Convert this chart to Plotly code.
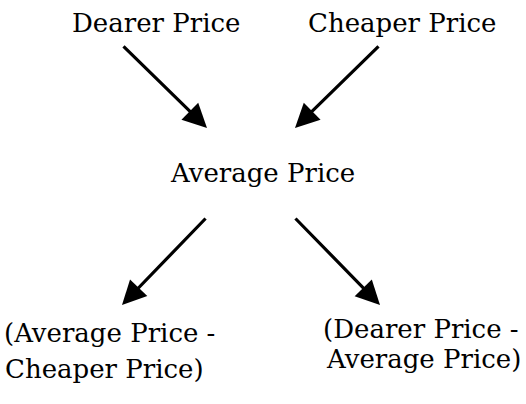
import plotly.graph_objects as go

# Node labels (one entry per text line) and their positions (526 x 404 coordinate space)
labels = ["Dearer Price", "Cheaper Price", "Average Price",
          "(Average Price -", "Cheaper Price)",
          "(Dearer Price -", "Average Price)"]
label_x = [156, 402, 262, 2, 3, 321, 324]
label_y = [23, 23, 173, 333, 369, 329, 359]
label_anchor = ["center", "center", "center", "left", "left", "left", "left"]

# Arrows: start (tail) and end (head) points
arrow_tail_x = [122, 380, 207, 294]
arrow_tail_y = [45, 45, 217, 217]
arrow_head_x = [207, 295, 122, 380]
arrow_head_y = [128, 128, 305, 305]

fig = go.Figure()
fig.add_trace(go.Scatter(x=[0, 526], y=[0, 404], mode="markers",
                         marker=dict(opacity=0), hoverinfo="skip", showlegend=False))

FONT = dict(family="DejaVu Serif", size=26, color="black")

for t, x, y, a in zip(labels, label_x, label_y, label_anchor):
    fig.add_annotation(x=x, y=y, xref="x", yref="y", text=t, showarrow=False,
                       xanchor=a, yanchor="middle", align="left", font=FONT)

for tx, ty, hx, hy in zip(arrow_tail_x, arrow_tail_y, arrow_head_x, arrow_head_y):
    fig.add_annotation(x=hx, y=hy, ax=tx, ay=ty, xref="x", yref="y",
                       axref="x", ayref="y", text="", showarrow=True,
                       arrowhead=2, arrowsize=1.5, arrowwidth=3.2, arrowcolor="black")

fig.update_layout(
    width=526, height=404, margin=dict(l=0, r=0, t=0, b=0),
    paper_bgcolor="white", plot_bgcolor="white",
    xaxis=dict(range=[0, 526], visible=False, fixedrange=True),
    yaxis=dict(range=[404, 0], visible=False, fixedrange=True),
    showlegend=False,
)

fig.write_html("out.html", config={"displayModeBar": False, "staticPlot": True},
               post_script="document.body.style.margin='0';")
